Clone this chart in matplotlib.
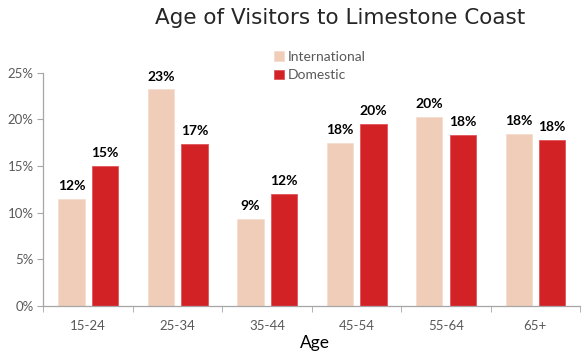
import numpy as np
import matplotlib.pyplot as plt
from matplotlib.ticker import FuncFormatter

# Share of visitors by age group (%)
ages = ["15-24", "25-34", "35-44", "45-54", "55-64", "65+"]
international = [11.5, 23.2, 9.3, 17.5, 20.2, 18.4]
domestic = [15.0, 17.4, 12.0, 19.5, 18.3, 17.8]

col_int = "#F0CDB9"
col_dom = "#D22226"
grey = "#595959"

plt.rcParams["font.family"] = ["Lato", "DejaVu Sans"]

fig = plt.figure(figsize=(5.83, 3.52), dpi=100)
ax = fig.add_axes([43.3 / 583, 46.3 / 352, 536.7 / 583, 233 / 352])

x = np.arange(len(ages))
w = 0.295
b1 = ax.bar(x - 0.185, international, w, color=col_int, edgecolor="#F5DDD0", linewidth=0.6,
            label="International")
b2 = ax.bar(x + 0.19, domestic, w, color=col_dom, edgecolor="#E0565A", linewidth=0.6,
            label="Domestic")

for bars, vals in ((b1, international), (b2, domestic)):
    for rect, v in zip(bars, vals):
        ax.annotate(f"{v:.0f}%", (rect.get_x() + rect.get_width() / 2, v),
                    xytext=(0, 5), textcoords="offset points",
                    ha="center", va="bottom", fontsize=10, fontweight="bold", color="black")

ax.set_ylim(0, 25)
ax.set_xlim(-0.5, -0.5 + 536.7 / 90.4)
ax.set_yticks(range(0, 26, 5))
ax.yaxis.set_major_formatter(FuncFormatter(lambda v, p: f"{v:.0f}%"))

ax.set_xticks(x)
ax.set_xticklabels(ages)
ax.set_xticks(np.arange(-0.5, 5.6, 1), minor=True)
ax.tick_params(axis="x", which="major", length=0, pad=10, labelsize=9.5, labelcolor=grey)
ax.tick_params(axis="x", which="minor", length=4, color="#A6A6A6", direction="out")
ax.tick_params(axis="y", length=4, color="#A6A6A6", labelsize=9.5, labelcolor=grey, pad=3)

for s in ("top", "right"):
    ax.spines[s].set_visible(False)
for s in ("left", "bottom"):
    ax.spines[s].set_color("#A6A6A6")
    ax.spines[s].set_linewidth(0.9)

ax.set_xlabel("Age", fontsize=12.5, color="black")
ax.xaxis.set_label_coords((2.5 + 0.5) / (536.7 / 90.4), -0.125)

fig.text(340 / 583, 1 - 18 / 352, "Age of Visitors to Limestone Coast",
         ha="center", va="center", fontsize=15.5, color="#262626", family="DejaVu Sans")

fig.legend(handles=[b1, b2], loc="upper left", bbox_to_anchor=(274 / 583, 1 - 51 / 352),
           frameon=False, fontsize=10, handlelength=0.7, handleheight=0.7,
           handletextpad=0.3, labelspacing=0.45, borderaxespad=0, borderpad=0,
           labelcolor=grey)

fig.savefig("out.png", dpi=100)
